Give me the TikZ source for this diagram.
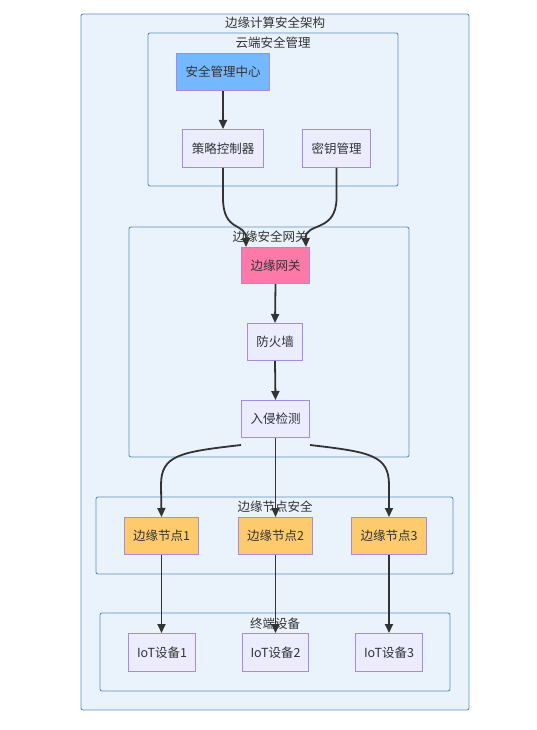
\documentclass[tikz,border=0pt]{standalone}
\usepackage{fontspec}
\setmainfont{Noto Sans CJK SC}
\usetikzlibrary{arrows.meta}
\definecolor{grpfill}{HTML}{EAF2FC}
\definecolor{grpline}{HTML}{5F8FC6}
\definecolor{ndfill}{HTML}{ECECFF}
\definecolor{ndline}{HTML}{A58BE4}
\definecolor{bluefill}{HTML}{74B9FF}
\definecolor{pinkfill}{HTML}{FD79A8}
\definecolor{orangefill}{HTML}{FDCB6E}
\definecolor{edgec}{HTML}{333333}
\definecolor{txt}{HTML}{333333}
\begin{document}
\begin{tikzpicture}[x=1pt,y=-1pt,
  grp/.style={draw=grpline,fill=grpfill,line width=0.9pt,rounded corners=2pt},
  grptitle/.style={font=\fontsize{12.5}{14}\selectfont,text=txt,inner sep=0pt},
  nd/.style={draw=ndline,fill=ndfill,line width=1pt,font=\fontsize{12.5}{14}\selectfont,text=txt,inner sep=0pt,anchor=north west},
  edge/.style={draw=edgec,line width=1.8pt,-{Triangle[length=9pt,width=8pt]}}]
\useasboundingbox (0,0) rectangle (537,730);
% groups
\draw[grp] (81,14) rectangle (469,710);
\node[grptitle] (tmain) at (275,23) {边缘计算安全架构};
\draw[grp] (148,33) rectangle (398,186);
\node[grptitle] (tcloud) at (273,43) {云端安全管理};
\draw[grp] (129,227) rectangle (409,457);
\node[grptitle] (tgw) at (270,237) {边缘安全网关};
\draw[grp] (96,497) rectangle (453,574);
\node[grptitle] (tnode) at (275,507) {边缘节点安全};
\draw[grp] (100,613) rectangle (450,691);
\node[grptitle] (tterm) at (275,624) {终端设备};
% nodes
\node[nd,fill=bluefill,minimum width=93pt,minimum height=37pt] (smc) at (176,53) {安全管理中心};
\node[nd,minimum width=81pt,minimum height=38pt] (pc) at (182,129) {策略控制器};
\node[nd,minimum width=68pt,minimum height=38pt] (km) at (302,129) {密钥管理};
\node[nd,fill=pinkfill,minimum width=68pt,minimum height=36pt] (gw) at (241,247) {边缘网关};
\node[nd,minimum width=55pt,minimum height=37pt] (fw) at (247,323) {防火墙};
\node[nd,minimum width=68pt,minimum height=37pt] (ids) at (241,400) {入侵检测};
\node[nd,fill=orangefill,minimum width=74pt,minimum height=37pt] (en1) at (124,517) {边缘节点1};
\node[nd,fill=orangefill,minimum width=74pt,minimum height=37pt] (en2) at (238,517) {边缘节点2};
\node[nd,fill=orangefill,minimum width=75pt,minimum height=37pt] (en3) at (351,517) {边缘节点3};
\node[nd,minimum width=67pt,minimum height=38pt] (iot1) at (128,633) {IoT设备1};
\node[nd,minimum width=66pt,minimum height=38pt] (iot2) at (242,633) {IoT设备2};
\node[nd,minimum width=67pt,minimum height=38pt] (iot3) at (355,633) {IoT设备3};
% edges
\draw[edge] (smc.south -| pc.north) -- (pc.north);
\draw[edge] (pc.south) -- ++(0,30) .. controls +(0,35) and (246,222) .. ([xshift=5pt]gw.north west);
\draw[edge] (km.south) -- ++(0,30) .. controls +(0,35) and (305,222) .. ([xshift=-4pt]gw.north east);
\draw[edge] (gw.south) -- (fw.north);
\draw[edge] (fw.south) -- (ids.north);
\draw[edge] ([yshift=-7pt]ids.south west) .. controls (180,452) and (161,455) .. (161,485) -- (en1.north);
\draw[edge] (ids.south) -- (en2.north);
\draw[edge] ([yshift=-7pt]ids.south east) .. controls (370,452) and (389,455) .. (389,485) -- (en3.north);
\draw[edge] (en1.south) -- (iot1.north -| en1.south);
\draw[edge] (en2.south) -- (iot2.north -| en2.south);
\draw[edge] (en3.south) -- (iot3.north -| en3.south);
\end{tikzpicture}
\end{document}
